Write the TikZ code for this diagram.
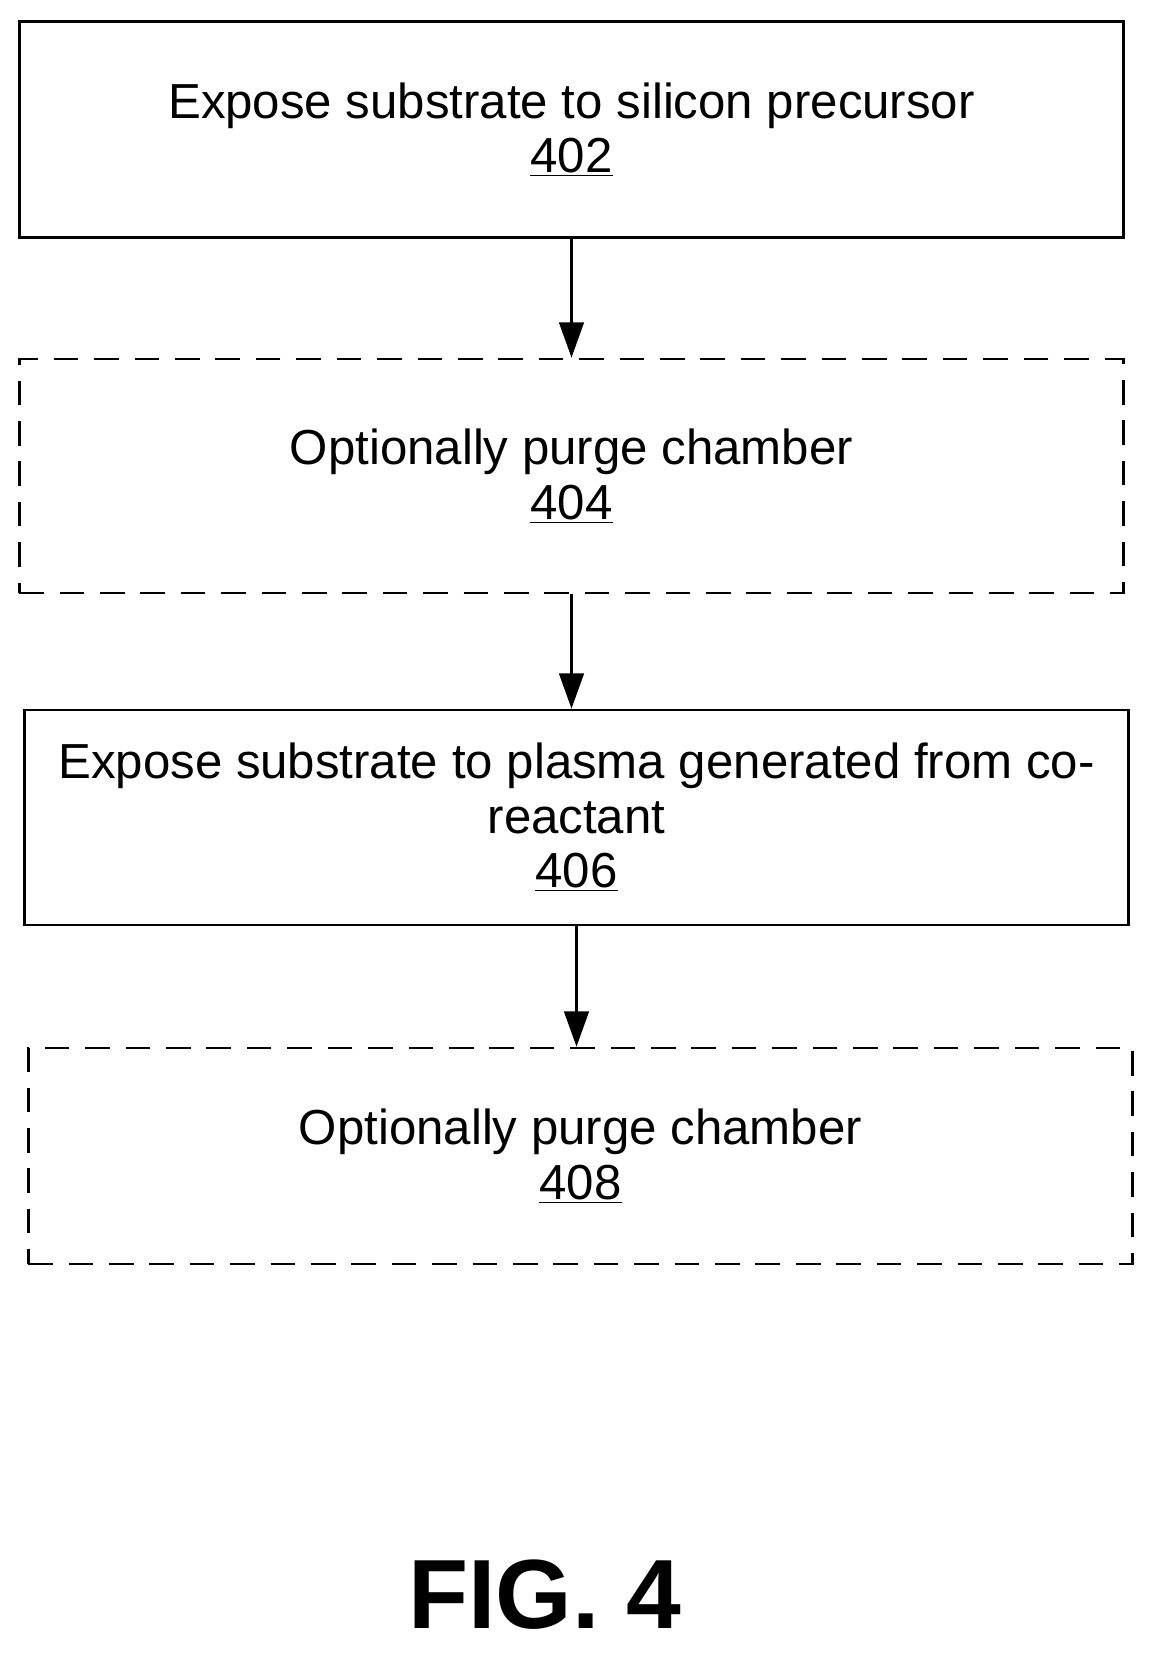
\documentclass[tikz,border=0pt]{standalone}
\usepackage{fontspec}
\setmainfont{Liberation Sans}
\usetikzlibrary{arrows.meta}
\tikzset{
	procbox/.style={rectangle,draw,line width=1.6pt,minimum width=22.1cm,minimum height=4.33cm,align=center,font=\fontsize{28}{31}\selectfont},
	optbox/.style={procbox,dash pattern=on 14pt off 9pt},
	flow/.style={-{Triangle[length=20pt,width=14pt]},line width=1.4pt}
}
\begin{document}
\begin{tikzpicture}[x=0.02cm,y=-0.02cm]
	\useasboundingbox (0,0) rectangle (1158,1658);

	\draw (571.5,129.5) node (expose) [procbox] {Expose substrate to silicon precursor\\\underline{402}};
	\draw (571.5,476) node (purgeA) [optbox,minimum height=4.68cm] {Optionally purge chamber\\\underline{404}};
	\draw (576.5,817.5) node (plasma) [procbox,minimum height=4.3cm] {Expose substrate to plasma generated from co-\\reactant\\\underline{406}};
	\draw (580.5,1156) node (purgeB) [optbox,minimum height=4.32cm] {Optionally purge chamber\\\underline{408}};

	\draw[flow] (expose.south) -- (expose.south |- purgeA.north);
	\draw[flow] (purgeA.south) -- (purgeA.south |- plasma.north);
	\draw[flow] (plasma.south) -- (plasma.south |- purgeB.north);

	\draw (545,1595) node (caption) [font=\fontsize{56}{64}\selectfont\bfseries] {FIG. 4};
\end{tikzpicture}
\end{document}
